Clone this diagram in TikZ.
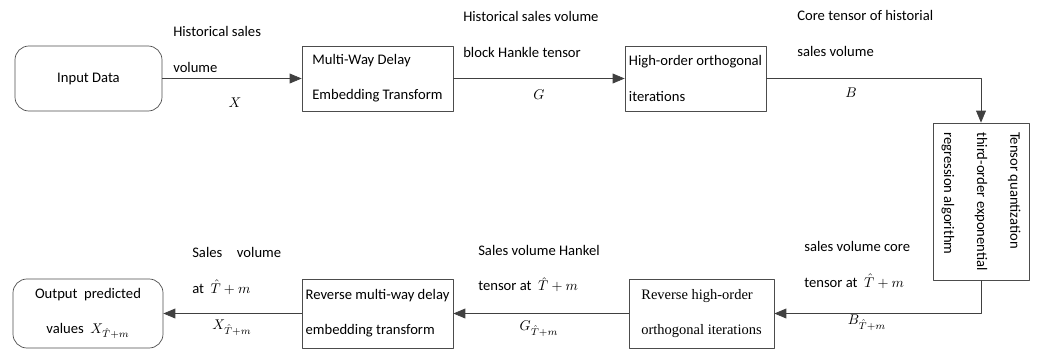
\documentclass[tikz,border=0pt]{standalone}
\usepackage{fontspec}
\setmainfont{Carlito}
\newfontfamily\timesfont{Liberation Serif}
\usetikzlibrary{arrows.meta}
\begin{document}
\begin{tikzpicture}[x=0.025cm, y=-0.025cm, >={Triangle[length=8.5pt,width=7pt]},
	line cap=round, line join=round,
	every node/.style={font=\fontsize{10.4}{25}\selectfont},
	box/.style={draw=black!70, line width=0.5pt, inner xsep=0pt, inner ysep=0pt, align=left,
		minimum height=1.625cm},
	rbox/.style={box, rounded corners=0.35cm, align=center},
	lbl/.style={anchor=west, align=left, inner sep=0pt},
	sym/.style={inner sep=1pt},
	flow/.style={->, draw=black!75, line width=0.5pt}]
	\useasboundingbox (0,0) rectangle (1040,350);
	% top row
	\node[rbox, minimum width=3.675cm] (in) at (88.5,78.5) {Input Data};
	\node[box, minimum width=3.775cm] (mdt) at (377.5,78.5) {Multi-Way Delay\\Embedding Transform};
	\node[box, minimum width=3.525cm] (hooi) at (695.5,78.5) {High-order orthogonal\\iterations};
	% right column
	\node[box, rotate=-90, minimum width=3.925cm, minimum height=2.4cm,
		font=\fontsize{10.4}{23.5}\selectfont] (tq) at (981,201.5)
		{Tensor quantization\\third-order exponential\\regression algorithm};
	% bottom row
	\node[box, minimum width=3.625cm, minimum height=1.725cm, font=\timesfont\fontsize{10.3}{24.5}\selectfont]
		(rhooi) at (701.5,313.5) {Reverse high-order\\orthogonal iterations};
	\node[box, minimum width=3.775cm, minimum height=1.725cm] (rmdt) at (377.5,313.5)
		{Reverse multi-way delay\\embedding transform};
	\node[rbox, minimum width=3.75cm, minimum height=1.725cm] (out) at (88,313.5)
		{Output\ \ predicted\\values\ \ $X_{\hat{T}+m}$};
	% connectors
	\draw[flow] (in) -- (mdt);
	\draw[flow] (mdt) -- (hooi);
	\draw[flow] (hooi.east) -| (tq.west);
	\draw[flow] (tq.east) |- (rhooi.east);
	\draw[flow] (rhooi) -- (rmdt);
	\draw[flow] (rmdt) -- (out);
	% labels
	\node[lbl] (lx) at (173,49.5) {Historical sales\\volume};
	\node[sym] (x) at (235,103) {$X$};
	\node[lbl] (lg) at (463,34.5) {Historical sales volume\\block Hankle tensor};
	\node[sym] (g) at (539,95) {$G$};
	\node[lbl] (lb) at (797,33.5) {Core tensor of historial\\sales volume};
	\node[sym] (b) at (851,93) {$B$};
	\node[lbl] (lbm) at (804,265) {sales volume core\\tensor at\ \ $\hat{T}+m$};
	\node[sym] (bm) at (867,323) {$B_{\hat{T}+m}$};
	\node[lbl] (lgm) at (478,268.5) {Sales volume Hankel\\tensor at\ \ $\hat{T}+m$};
	\node[sym] (gm) at (539,329) {$G_{\hat{T}+m}$};
	\node[lbl] (lxm) at (192,271) {Sales\quad volume\\at\ \ $\hat{T}+m$};
	\node[sym] (xm) at (232,328) {$X_{\hat{T}+m}$};
\end{tikzpicture}
\end{document}
